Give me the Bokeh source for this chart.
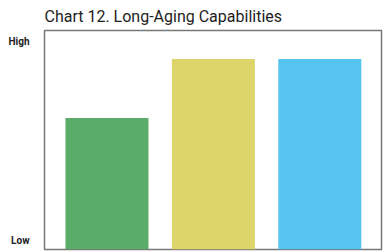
from bokeh.plotting import figure
from bokeh.models import Range1d, FixedTicker, Title
from bokeh.embed import file_html
from bokeh.resources import INLINE

categories = ["Product A", "Product B", "Product C"]
values = [60, 87, 87]
colors = ["#5bab6b", "#ddd46a", "#55c5f0"]
tick_values = [4, 95]
tick_labels = ["Low", "High"]
title_text = "Chart 12. Long-Aging Capabilities"

xs = list(range(len(categories)))

p = figure(width=385, height=251, output_backend="svg", toolbar_location=None,
           x_range=Range1d(-0.587, 2.58), y_range=Range1d(0, 100),
           min_border_left=44, min_border_right=4, min_border_bottom=2, min_border_top=0)
p.title = Title(text=title_text, text_font="Roboto", text_font_size="16px",
                text_font_style="normal", text_color="#1e1e1e", offset=0, standoff=9)
p.vbar(x=xs, top=values, width=0.78, color=colors, line_color=None)

p.xaxis.visible = False
p.xgrid.visible = False
p.ygrid.visible = False
p.yaxis.ticker = FixedTicker(ticks=tick_values)
p.yaxis.major_label_overrides = {v: t for v, t in zip(tick_values, tick_labels)}
p.yaxis.axis_line_color = None
p.yaxis.major_tick_line_color = None
p.yaxis.minor_tick_line_color = None
p.yaxis.major_label_text_font = "Roboto"
p.yaxis.major_label_text_font_style = "bold"
p.yaxis.major_label_text_font_size = "10px"
p.yaxis.major_label_text_color = "#222222"
p.yaxis.major_label_standoff = 9
p.outline_line_color = "#777777"
p.outline_line_width = 1.5
p.background_fill_color = "white"
p.border_fill_color = "white"

open("out.html", "w").write(file_html(p, INLINE))
